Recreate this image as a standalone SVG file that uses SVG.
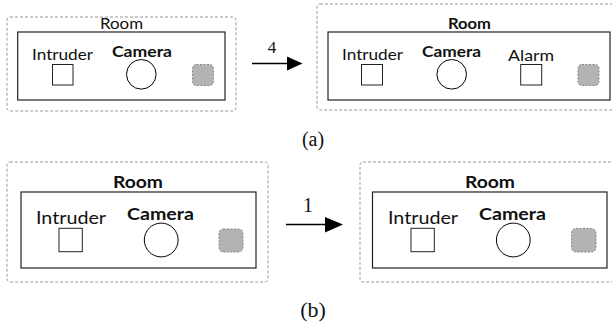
<svg xmlns="http://www.w3.org/2000/svg" width="612" height="329" viewBox="0 0 612 329">
<style>
.outer{fill:none;stroke:#999;stroke-width:1;stroke-dasharray:3 2}
.room{fill:#fff;stroke:#222;stroke-width:1.2}
.sq{fill:#fff;stroke:#222;stroke-width:1}
.cam{fill:#fff;stroke:#000;stroke-width:1}
.ghost{fill:#b3b3b3;stroke:#888;stroke-width:1;stroke-dasharray:2 1.5}
.lbl{font-family:Lato,"Liberation Sans",sans-serif;fill:#111}
.b{font-weight:bold}
.num{font-family:"Liberation Serif",serif;fill:#111;text-anchor:middle}
.edge{stroke:#000;stroke-width:1.3;fill:none}
</style>
<rect width="612" height="329" fill="#fff"/>

<g id="panel-a-before">
  <rect class="outer" x="7" y="17" width="229" height="94" rx="3"/>
  <text class="lbl" x="100" y="29" font-size="15" textLength="43" lengthAdjust="spacingAndGlyphs">Room</text>
  <rect class="room" x="17.7" y="32" width="207.3" height="68"/>
  <g id="a1-intruder">
    <text class="lbl" x="32" y="60" font-size="15" textLength="61" lengthAdjust="spacingAndGlyphs">Intruder</text>
    <rect class="sq" x="52.5" y="64.5" width="20.5" height="20.5"/>
  </g>
  <g id="a1-camera">
    <text class="lbl b" x="112" y="56.7" font-size="15" textLength="60" lengthAdjust="spacingAndGlyphs">Camera</text>
    <circle class="cam" cx="141.3" cy="74.3" r="14.8"/>
  </g>
  <rect id="a1-ghost" class="ghost" x="192.5" y="64.5" width="21" height="21" rx="4"/>
</g>

<g id="panel-a-after">
  <rect class="outer" x="317" y="4" width="300" height="106" rx="3"/>
  <text class="lbl b" x="448" y="28.5" font-size="15" textLength="43" lengthAdjust="spacingAndGlyphs">Room</text>
  <rect class="room" x="328" y="32" width="282" height="68"/>
  <g id="a2-intruder">
    <text class="lbl" x="342" y="60" font-size="15" textLength="61" lengthAdjust="spacingAndGlyphs">Intruder</text>
    <rect class="sq" x="361.5" y="64.5" width="21" height="20.5"/>
  </g>
  <g id="a2-camera">
    <text class="lbl b" x="422" y="56.7" font-size="15" textLength="59" lengthAdjust="spacingAndGlyphs">Camera</text>
    <circle class="cam" cx="451.7" cy="74.3" r="14.8"/>
  </g>
  <g id="a2-alarm">
    <text class="lbl" x="508" y="60.5" font-size="15" textLength="46" lengthAdjust="spacingAndGlyphs">Alarm</text>
    <rect class="sq" x="520.7" y="64.5" width="21" height="20.5"/>
  </g>
  <rect id="a2-ghost" class="ghost" x="578" y="64.5" width="21" height="21" rx="4"/>
</g>

<g id="panel-b-before">
  <rect class="outer" x="7" y="162" width="261" height="120" rx="3"/>
  <text class="lbl b" x="113" y="188.3" font-size="17" textLength="50" lengthAdjust="spacingAndGlyphs">Room</text>
  <rect class="room" x="21" y="192" width="235" height="76"/>
  <g id="b1-intruder">
    <text class="lbl" x="36" y="224" font-size="17" textLength="70" lengthAdjust="spacingAndGlyphs">Intruder</text>
    <rect class="sq" x="59" y="228.3" width="23.3" height="23.4"/>
  </g>
  <g id="b1-camera">
    <text class="lbl b" x="127" y="220" font-size="17" textLength="67" lengthAdjust="spacingAndGlyphs">Camera</text>
    <circle class="cam" cx="161.2" cy="240" r="16.9"/>
  </g>
  <rect id="b1-ghost" class="ghost" x="219" y="229" width="24" height="23" rx="4.5"/>
</g>

<g id="panel-b-after">
  <rect class="outer" x="360" y="162" width="260" height="120" rx="3"/>
  <text class="lbl b" x="465" y="188.3" font-size="17" textLength="50" lengthAdjust="spacingAndGlyphs">Room</text>
  <rect class="room" x="372.5" y="192" width="234.5" height="76"/>
  <g id="b2-intruder">
    <text class="lbl" x="388" y="224" font-size="17" textLength="70" lengthAdjust="spacingAndGlyphs">Intruder</text>
    <rect class="sq" x="411" y="228.3" width="23.3" height="23.4"/>
  </g>
  <g id="b2-camera">
    <text class="lbl b" x="479" y="220" font-size="17" textLength="67" lengthAdjust="spacingAndGlyphs">Camera</text>
    <circle class="cam" cx="513.3" cy="240" r="16.9"/>
  </g>
  <rect id="b2-ghost" class="ghost" x="571.5" y="228.5" width="24.5" height="23.5" rx="4.5"/>
</g>

<g id="connectors">
  <line class="edge" x1="252" y1="63.5" x2="288" y2="63.5"/>
  <polygon points="287,56.5 302.5,63.5 287,70.5" fill="#000"/>
  <text class="num" x="272" y="53" font-size="17">4</text>
  <line class="edge" x1="286" y1="224.5" x2="326" y2="224.5"/>
  <polygon points="325,217 343,224.5 325,232.5" fill="#000"/>
  <text class="num" x="308" y="212" font-size="20">1</text>
</g>

<text class="num" x="313" y="146" font-size="20">(a)</text>
<text class="num" x="313" y="317" font-size="22">(b)</text>
</svg>
